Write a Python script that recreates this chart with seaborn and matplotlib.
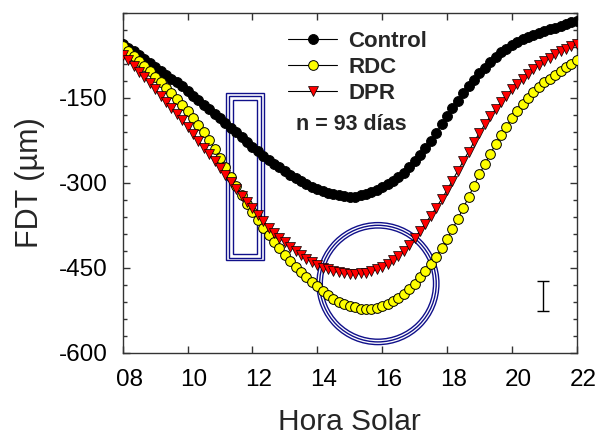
import numpy as np
import pandas as pd
import seaborn as sns
import matplotlib.pyplot as plt
from matplotlib.patches import Rectangle, Ellipse
from matplotlib.ticker import MultipleLocator
from matplotlib.transforms import ScaledTranslation

# readings every 10 minutes, 08:00 to 22:00
control = [-55, -62, -68, -75, -81, -88,
           -95, -102, -109, -116, -123, -130,
           -138, -146, -154, -162, -170, -178,
           -186, -194, -203, -211, -219, -228,
           -236, -244, -252, -259, -266, -273,
           -280, -286, -292, -297, -302, -307,
           -311, -315, -318, -320, -322, -324,
           -325, -325, -322, -320, -317, -313,
           -308, -303, -297, -290, -282, -272,
           -262, -251, -239, -226, -212, -197,
           -182, -168, -155, -142, -130, -118,
           -107, -97, -87, -78, -70, -63,
           -57, -52, -47, -43, -39, -35,
           -32, -29, -26, -23, -20, -17,
           -14]
rdc = [-59, -67, -76, -85, -94, -103,
       -113, -123, -132, -142, -152, -163,
       -174, -186, -198, -210, -224, -240,
       -256, -272, -289, -305, -321, -337,
       -352, -366, -379, -392, -404, -416,
       -428, -438, -448, -458, -467, -475,
       -483, -491, -498, -505, -510, -514,
       -517, -520, -522, -523, -523, -521,
       -518, -514, -509, -503, -496, -487,
       -478, -467, -456, -444, -431, -416,
       -400, -382, -364, -345, -325, -305,
       -285, -267, -249, -232, -216, -201,
       -186, -173, -161, -150, -140, -131,
       -123, -116, -109, -102, -96, -90,
       -84]
dpr = [-75, -84, -94, -104, -114, -124,
       -135, -146, -157, -168, -179, -190,
       -202, -214, -226, -238, -250, -262,
       -274, -286, -299, -311, -323, -334,
       -345, -357, -368, -379, -388, -397,
       -405, -413, -420, -427, -434, -440,
       -446, -450, -453, -456, -458, -460,
       -461, -461, -460, -459, -456, -453,
       -449, -444, -437, -430, -421, -410,
       -398, -385, -372, -358, -344, -329,
       -313, -296, -279, -262, -245, -228,
       -212, -197, -183, -170, -158, -146,
       -135, -125, -116, -108, -100, -92,
       -85, -79, -73, -67, -63, -59,
       -55]
hora = np.linspace(8, 22, len(control))

x_ticks = [8, 10, 12, 14, 16, 18, 20, 22]
x_labels = ["08", "10", "12", "14", "16", "18", "20", "22"]
y_ticks = [-600, -450, -300, -150]

# error bar shown at lower right
err_x, err_y, err_size = 20.96, -500, 27

df = pd.DataFrame({"hora": hora, "Control": control, "RDC": rdc, "DPR": dpr})

sns.set_style("ticks")
plt.rcParams["font.family"] = ["Liberation Sans", "DejaVu Sans"]
plt.rcParams["axes.unicode_minus"] = False

fig = plt.figure(figsize=(6, 4.42), dpi=100)
ax = fig.add_axes([0.2045, 0.202, 0.7567, 0.769])

sns.lineplot(data=df, x="hora", y="Control", ax=ax, color="black", lw=0.8,
             marker="o", ms=7.2, mfc="black", mec="black", mew=0.6,
             label="Control", zorder=3)
sns.lineplot(data=df, x="hora", y="RDC", ax=ax, color="black", lw=0.8,
             marker="o", ms=7, mfc="#ffff00", mec="black", mew=0.7,
             label="RDC", zorder=4)
sns.lineplot(data=df, x="hora", y="DPR", ax=ax, color="black", lw=0.8,
             marker="v", ms=7.5, mfc="#ff0000", mec="black", mew=0.5,
             label="DPR", zorder=5)

ax.errorbar([err_x], [err_y], yerr=[err_size], color="black", lw=1,
            capsize=4, capthick=1, zorder=6)

ax.set_xlim(8, 22)
ax.set_ylim(-600, 0)
ax.set_xticks(x_ticks)
ax.set_xticklabels(x_labels)
ax.set_yticks(y_ticks)
ax.yaxis.set_minor_locator(MultipleLocator(30))
ax.tick_params(axis="both", which="both", direction="in", top=True, right=True,
               colors="#333333", labelcolor="black")
ax.tick_params(axis="both", which="major", length=5, width=1, labelsize=17.5)
ax.tick_params(axis="y", which="major", pad=10.5)
ax.tick_params(axis="x", which="major", pad=11.5)
ax.tick_params(axis="y", which="minor", length=3, width=1)
for s in ax.spines.values():
    s.set_color("#333333")
    s.set_linewidth(1)
# x labels sit a little right of their ticks in the original
shift = ScaledTranslation(0.065, 0, fig.dpi_scale_trans)
for lab in ax.get_xticklabels():
    lab.set_transform(lab.get_transform() + shift)

ax.set_xlabel("Hora Solar", fontsize=21.5)
ax.set_ylabel("FDT (µm)", fontsize=22)
ax.xaxis.set_label_coords(0.5, -0.163)
ax.yaxis.set_label_coords(-0.171, 0.5)

leg = ax.legend(loc="upper left", bbox_to_anchor=(0.365, 0.946), frameon=False,
                borderpad=0, borderaxespad=0, handlelength=2.2, handletextpad=0.5,
                labelspacing=0.22, prop={"weight": "bold", "size": 16})
ax.text(0.503, 0.672, "n = 93 días", transform=ax.transAxes, ha="center",
        va="center", fontsize=15.5, fontweight="bold")

# navy highlight shapes (pixel insets converted to data units)
fig.canvas.draw()
bb = ax.get_window_extent()
px_x = 14 / bb.width
px_y = 600 / bb.height
navy = "#10108a"

rect_x0, rect_x1, rect_y0, rect_y1 = 11.2, 12.35, -437, -142
for inset in [0, 2.7, 6.5]:
    dx, dy = inset * px_x, inset * px_y
    ax.add_patch(Rectangle((rect_x0 + dx, rect_y0 + dy),
                           rect_x1 - rect_x0 - 2 * dx, rect_y1 - rect_y0 - 2 * dy,
                           fill=False, ec=navy, lw=1, zorder=2))

circ_x, circ_y = 15.87, -478
for r in [61, 58.3, 55.6]:
    ax.add_patch(Ellipse((circ_x, circ_y), 2 * r * px_x, 2 * r * px_y,
                         fill=False, ec=navy, lw=1, zorder=2))

fig.savefig("out.png", dpi=100)
